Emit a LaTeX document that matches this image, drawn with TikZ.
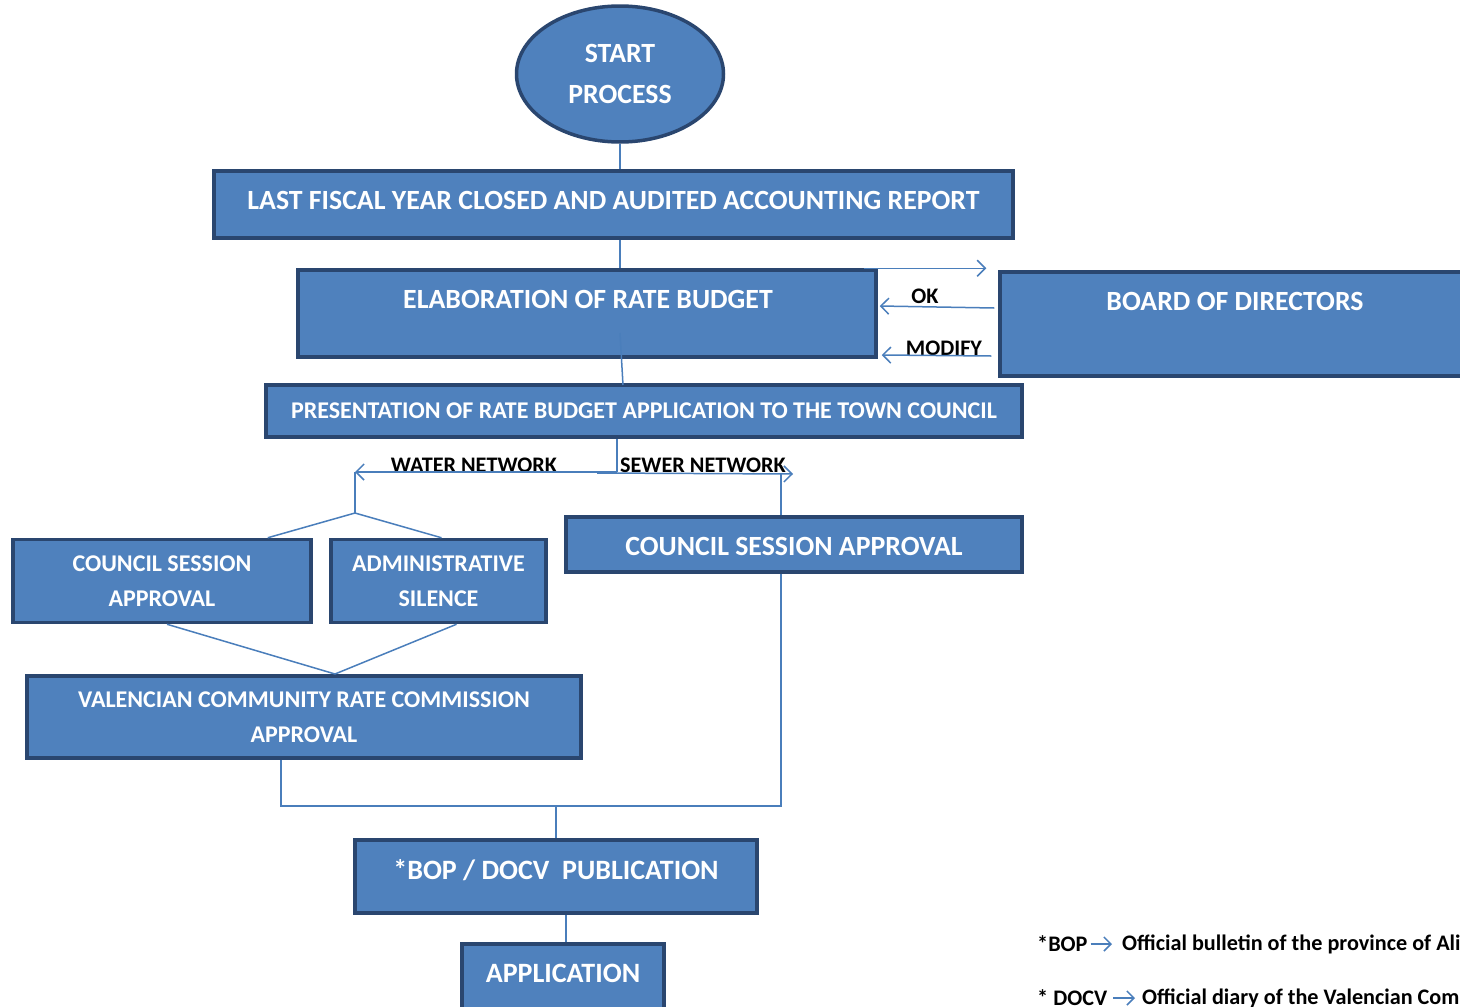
\documentclass[tikz,border=0pt]{standalone}
\usepackage{fontspec}
\setmainfont{Carlito}
\usetikzlibrary{arrows.meta,shapes.geometric,calc}
\definecolor{fillb}{HTML}{4F81BD}
\definecolor{edgeb}{HTML}{2A466F}
\definecolor{lineb}{HTML}{4A7EBB}
\begin{document}
\begin{tikzpicture}[x=1pt,y=-1pt,
 box/.style={draw=edgeb, fill=fillb, line width=3.5pt, inner sep=0pt},
 wt/.style={text=white, font=\bfseries\fontsize{27.8}{30}\selectfont, inner sep=0pt, align=center},
 wts/.style={text=white, font=\bfseries\fontsize{24}{35}\selectfont, inner sep=0pt, align=center},
 conn/.style={draw=lineb, line width=1.5pt},
 arr/.style={conn, -{Straight Barb[length=8pt,width=16pt,line width=1.5pt]}},
 legarr/.style={draw=lineb, line width=1.5pt, -{Straight Barb[length=7pt,width=14pt,line width=1.5pt]}},
 lbl/.style={font=\bfseries\fontsize{22.2}{24}\selectfont, inner sep=0pt}]
\clip (0,0) rectangle (1460,1007);
\fill[white] (0,0) rectangle (1460,1007);

% nodes
\node[box, ellipse, minimum width=207pt, minimum height=136pt, wt, font=\bfseries\fontsize{27.8}{41}\selectfont] (start) at (620,74) {START\\PROCESS};
\node[box, minimum width=799pt, minimum height=67pt, wt, text height=20pt, text depth=11pt] (fiscal) at (613.5,204.5) {LAST FISCAL YEAR CLOSED AND AUDITED ACCOUNTING REPORT};
\node[box, minimum width=578pt, minimum height=87pt] (elab) at (587,313.5) {};
\node[wt] (elabt) at (588,299) {ELABORATION OF RATE BUDGET};
\node[box, minimum width=470pt, minimum height=104pt] (board) at (1235,324) {};
\node[wt] (boardt) at (1235,301) {BOARD OF DIRECTORS};
\node[box, minimum width=756pt, minimum height=52pt, wts] (pres) at (644,411) {PRESENTATION OF RATE BUDGET APPLICATION TO THE TOWN COUNCIL};
\node[box, minimum width=298pt, minimum height=83pt, wts] (csaL) at (162,581) {COUNCIL SESSION\\APPROVAL};
\node[box, minimum width=215pt, minimum height=83pt, wts] (admin) at (438.5,581) {ADMINISTRATIVE\\SILENCE};
\node[box, minimum width=456pt, minimum height=55pt, wt, text height=22pt, text depth=1pt] (csaR) at (794,544.5) {COUNCIL SESSION APPROVAL};
\node[box, minimum width=554pt, minimum height=82pt, wts] (vcrc) at (304,717) {VALENCIAN COMMUNITY RATE COMMISSION\\APPROVAL};
\node[box, minimum width=402pt, minimum height=73pt, wt, font=\bfseries\fontsize{28}{30}\selectfont, text height=20pt, text depth=15pt] (bop) at (556,876.5) {*BOP / DOCV\ \ PUBLICATION};
\node[box, minimum width=202pt, minimum height=68pt] (app) at (563,978) {};
\node[wt, font=\bfseries\fontsize{28}{30}\selectfont] (appt) at (563,973) {APPLICATION};

% labels
\node[lbl] (oklab) at (925,296) {OK};
\node[lbl] (modlab) at (944,348) {MODIFY};
\node[lbl] (wlab) at (474,465) {WATER NETWORK};
\node[lbl] (slab) at (703,465) {SEWER NETWORK};

% coordinates
\coordinate (e1) at (620,333);
\coordinate (e2) at (623,385);
\coordinate (split) at (617,472);
\coordinate (s0) at (597,473);
\coordinate (wL) at (355,472);
\coordinate (sR) at (793,474);
\coordinate (sv) at (781,474);
\coordinate (wfork) at (355,513);
\coordinate (vm) at (335,674);
\coordinate (jn) at (556,806);
\coordinate (jr) at (781,806);

% main spine
\draw[conn] (start.south) -- (start.south |- fiscal.north);
\draw[conn] (fiscal.south -| start.south) -- (elab.north -| start.south);
\draw[conn] (e1) -- (e2);
\draw[conn] (pres.south -| split) -- (split);

% board of directors
\draw[arr] ($(elab.north east)+(-14,0)$) -- ($(board.north west)+(-12,-2)$);
\draw[arr] ($(board.west)+(-4,-16)$) -- ($(elab.east)+(2,-7.5)$);
\draw[arr] ($(board.west)+(-7,32)$) -- ($(elab.east)+(4,41.5)$);

% network split
\draw[arr] (split) -- (wL);
\draw[arr] (s0) -- (sR);
\draw[conn] (wL) -- (wfork);
\draw[conn] (wfork) -- ($(csaL.north east)+(-45,0)$);
\draw[conn] (wfork) -- ($(admin.north)+(3,0)$);
\draw[conn] (sv) -- (csaR.north -| sv);

% merge
\draw[conn] ($(csaL.south)+(5,0)$) -- (vm);
\draw[conn] ($(admin.south)+(18,0)$) -- (vm);
\draw[conn] ($(vcrc.south)+(-23,0)$) |- (jr) -- (csaR.south -| jr);
\draw[conn] (jn) -- (bop.north -| jn);
\draw[conn] ($(bop.south)+(10,0)$) -- ($(app.north)+(3,0)$);

% legend
\node[lbl, anchor=west] (bopk) at (1037,944) {*BOP};
\node[lbl, anchor=west] (bopd) at (1122,944) {Official bulletin of the province of Alicante};
\draw[legarr, shorten <=3pt, shorten >=10pt] (bopk.east) -- (bopd.west);
\node[lbl, anchor=west] (docvk) at (1037,998) {* DOCV};
\node[lbl, anchor=west] (docvd) at (1142,998) {Official diary of the Valencian Community};
\draw[legarr, shorten <=6pt, shorten >=7pt] (docvk.east) -- (docvd.west);
\end{tikzpicture}
\end{document}
